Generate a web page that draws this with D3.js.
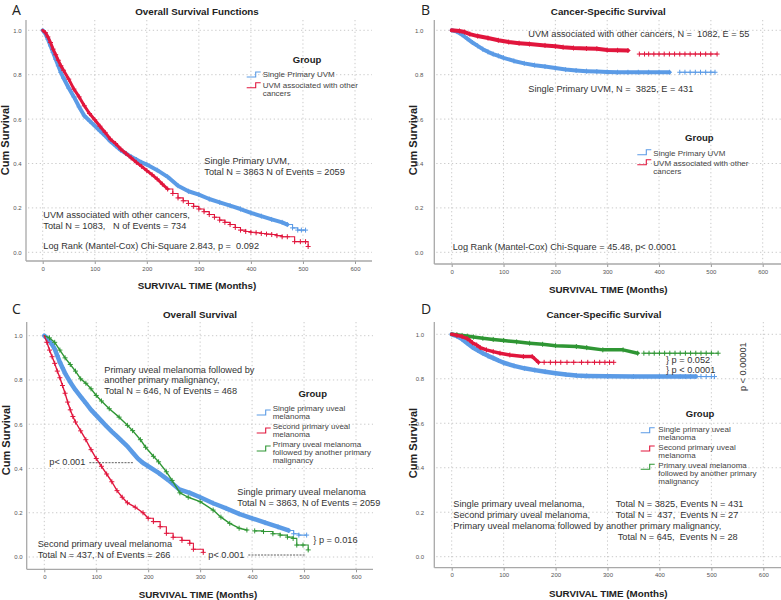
<!DOCTYPE html>
<html><head><meta charset="utf-8">
<script src="https://cdn.jsdelivr.net/npm/d3@7"></script>
<style>body{margin:0;background:#fff;} svg text{font-family:"Liberation Sans",Arial,sans-serif;}</style>
</head><body><svg id="c" width="781" height="600"></svg>
<script>
// ---------- shared ticks ----------
const xTicks = [0,100,200,300,400,500,600];
const yTicks = [0,0.2,0.4,0.6,0.8,1.0];

// ---------- Panel A : Overall survival (two groups) ----------
const aSingle = [[0,1],[5,0.985],[10,0.96],[15,0.93],[20,0.9],[25,0.87],[30,0.84],[35,0.81],[40,0.785],[50,0.74],[60,0.7],[70,0.655],[80,0.615],[90,0.592],[100,0.57],[110,0.547],[120,0.525],[130,0.5],[140,0.48],[150,0.46],[160,0.445],[170,0.43],[180,0.418],[190,0.405],[200,0.395],[220,0.37],[240,0.34],[260,0.3],[280,0.275],[300,0.26],[320,0.24],[340,0.225],[360,0.21],[380,0.195],[400,0.178],[420,0.163],[440,0.148],[460,0.135],[470,0.125],[480,0.11],[490,0.1],[497,0.1],[505,0.1]];
const aOther = [[0,1],[5,0.99],[10,0.97],[15,0.945],[20,0.915],[25,0.89],[30,0.865],[35,0.84],[40,0.82],[50,0.78],[60,0.735],[70,0.7],[80,0.66],[90,0.625],[100,0.597],[110,0.568],[120,0.54],[130,0.51],[140,0.49],[150,0.465],[160,0.445],[170,0.425],[180,0.405],[190,0.387],[200,0.368],[210,0.35],[220,0.33],[230,0.307],[240,0.285],[250,0.265],[260,0.245],[270,0.232],[280,0.22],[290,0.207],[300,0.195],[310,0.183],[320,0.17],[330,0.158],[340,0.145],[350,0.135],[360,0.125],[370,0.112],[380,0.1],[390,0.094],[400,0.09],[410,0.088],[420,0.085],[430,0.082],[440,0.08],[450,0.075],[460,0.07],[470,0.07],[484,0.048],[495,0.048],[505,0.048],[510,0.026]];

// ---------- Panel B : Cancer-specific survival (two groups) ----------
const bSingle = [[0,1],[10,0.994],[20,0.98],[30,0.962],[40,0.945],[50,0.93],[60,0.915],[70,0.903],[80,0.893],[90,0.885],[100,0.876],[120,0.862],[140,0.851],[160,0.843],[180,0.837],[200,0.83],[220,0.823],[240,0.819],[260,0.816],[280,0.814],[300,0.812],[320,0.811],[340,0.811],[360,0.811],[380,0.811],[400,0.811],[420,0.811],[440,0.811],[450,0.811],[460,0.811],[470,0.811],[480,0.811],[490,0.811],[500,0.811],[508,0.811]];
const bOther = [[0,1],[15,0.997],[25,0.992],[35,0.983],[50,0.974],[70,0.965],[90,0.955],[110,0.947],[130,0.942],[150,0.938],[180,0.932],[200,0.928],[215,0.924],[235,0.92],[260,0.918],[280,0.917],[300,0.911],[320,0.91],[340,0.909],[362,0.893],[372,0.893],[380,0.893],[390,0.893],[400,0.893],[410,0.893],[420,0.893],[430,0.893],[440,0.893],[450,0.893],[460,0.893],[470,0.893],[480,0.893],[490,0.893],[500,0.893],[512,0.893]];

// ---------- Panel C : Overall survival (three groups) ----------
const cSingle = [[0,1],[5,0.99],[10,0.975],[15,0.96],[20,0.94],[25,0.91],[30,0.88],[35,0.855],[40,0.83],[50,0.79],[60,0.755],[70,0.725],[80,0.695],[90,0.665],[100,0.64],[110,0.615],[120,0.59],[130,0.567],[140,0.545],[150,0.522],[160,0.5],[170,0.472],[180,0.445],[190,0.425],[200,0.41],[220,0.38],[240,0.345],[260,0.305],[280,0.29],[300,0.27],[325,0.243],[350,0.22],[375,0.195],[400,0.175],[425,0.155],[450,0.136],[470,0.12],[480,0.105],[490,0.099],[505,0.099]];
const cSecond = [[0,1],[5,0.97],[10,0.935],[15,0.905],[20,0.875],[25,0.84],[30,0.81],[35,0.775],[40,0.74],[45,0.7],[50,0.665],[55,0.635],[60,0.61],[70,0.57],[80,0.53],[90,0.485],[100,0.445],[110,0.41],[120,0.375],[130,0.34],[140,0.3],[150,0.27],[160,0.245],[175,0.225],[190,0.2],[200,0.175],[210,0.16],[223,0.137],[235,0.107],[248,0.089],[265,0.075],[280,0.062],[287,0.035],[306,0.021]];
const cFollowed = [[0,1],[10,0.99],[20,0.97],[30,0.935],[40,0.9],[50,0.87],[60,0.84],[70,0.805],[80,0.785],[90,0.76],[100,0.73],[110,0.705],[125,0.67],[144,0.632],[160,0.595],[170,0.571],[185,0.53],[195,0.496],[210,0.455],[220,0.43],[235,0.385],[246,0.346],[261,0.29],[277,0.27],[300,0.25],[325,0.212],[340,0.18],[357,0.152],[375,0.13],[390,0.122],[405,0.118],[422,0.115],[440,0.105],[454,0.099],[468,0.09],[479,0.084],[486,0.054],[498,0.054],[508,0.032]];

// ---------- Panel D : Cancer-specific survival (three groups) ----------
const dSingle = [[0,1],[10,0.992],[20,0.978],[30,0.96],[40,0.942],[50,0.928],[60,0.915],[70,0.903],[80,0.893],[90,0.882],[100,0.872],[120,0.858],[140,0.847],[160,0.839],[180,0.832],[200,0.825],[220,0.819],[240,0.815],[260,0.813],[300,0.811],[350,0.81],[400,0.81],[440,0.81],[450,0.81],[460,0.81],[470,0.81],[480,0.81],[490,0.81],[500,0.81],[506,0.81]];
const dSecond = [[0,1],[10,0.995],[20,0.99],[30,0.98],[35,0.972],[40,0.962],[48,0.952],[55,0.94],[67,0.93],[80,0.922],[93,0.915],[112,0.907],[138,0.9],[155,0.9],[167,0.874],[178,0.874],[190,0.874],[200,0.874],[210,0.874],[222,0.874],[235,0.874],[250,0.874],[262,0.874],[275,0.874],[285,0.874],[295,0.874],[304,0.874],[312,0.874]];
const dFollowed = [[0,1],[10,0.998],[20,0.995],[30,0.992],[42,0.988],[60,0.982],[80,0.977],[100,0.972],[125,0.966],[150,0.96],[175,0.955],[200,0.949],[240,0.945],[260,0.94],[291,0.93],[330,0.93],[358,0.915],[370,0.915],[380,0.915],[390,0.915],[400,0.915],[410,0.915],[420,0.915],[430,0.915],[440,0.915],[450,0.915],[460,0.915],[470,0.915],[480,0.915],[490,0.915],[500,0.915],[513,0.915]];

const BLUE = "#5b9be6", RED = "#e1163d", GREEN = "#2f9634";
const TXT = "#333", LEG = "#444";

const panels = [
  { letter:"A", lx:12, ly:15, title:"Overall Survival Functions", tx:197, ty:15,
    x0:42.7, x600:355, y1:30.3, y0:252.3, axL:26, axB:261, right:372, top:20, ytPad:4.3,
    xtitle:[197,288.7], ytitle:[9,140],
    series:[{d:aSingle,c:BLUE,band:470,bw:4},{d:aOther,c:RED,band:240,bw:3}],
    legend:{gx:307, gy:63, sx:246.7, tx:262.7, dy:0, items:[
      {c:BLUE, lines:["Single Primary UVM"], y:77},
      {c:RED, lines:["UVM associated with other","cancers"], y:87.7}]},
    notes:[["Single Primary UVM,",204.3,164],["Total N = 3863 N of Events = 2059",204.3,174.7],
      ["UVM associated with other cancers,",43.3,218.3],["Total N = 1083,   N of Events = 734",43.3,229.3],
      ["Log Rank (Mantel-Cox) Chi-Square 2.843, p =  0.092",43.3,249.3]],
    dashes:[] },
  { letter:"B", lx:421, ly:15, title:"Cancer-Specific Survival", tx:608.3, ty:15,
    x0:451.7, x600:762.7, y1:30.3, y0:252.3, axL:434.3, axB:264, right:781, top:20, ytPad:11,
    xtitle:[608.3,293.3], ytitle:[417,140],
    series:[{d:bSingle,c:BLUE,band:430,bw:4},{d:bOther,c:RED,band:360,bw:4}],
    legend:{gx:699.3, gy:140.7, sx:637.3, tx:653.3, dy:-1, items:[
      {c:BLUE, lines:["Single Primary UVM"], y:155.7},
      {c:RED, lines:["UVM associated with other","cancers"], y:165.7}]},
    notes:[["UVM associated with other cancers, N =  1082, E = 55",528.3,37.3],
      ["Single Primary UVM, N =  3825, E = 431",528.3,91.7],
      ["Log Rank (Mantel-Cox) Chi-Square = 45.48, p< 0.0001",452.7,250]],
    dashes:[] },
  { letter:"C", lx:12, ly:314, title:"Overall Survival", tx:200, ty:318.3,
    x0:44.3, x600:356, y1:335.7, y0:557, axL:26.7, axB:569.3, right:373, top:322, ytPad:4,
    xtitle:[198,597.7], ytitle:[10,440],
    series:[{d:cSingle,c:BLUE,band:470,bw:4.5},{d:cFollowed,c:GREEN,band:400,bw:1.4},{d:cSecond,c:RED,band:200,bw:1.4}],
    legend:{gx:312.7, gy:396.7, sx:256.7, tx:272.7, dy:4, items:[
      {c:BLUE, lines:["Single primary uveal","melanoma"], y:411},
      {c:RED, lines:["Second primary uveal","melanoma"], y:429},
      {c:GREEN, lines:["Primary uveal melanoma","followed by another primary","malignancy"], y:447}]},
    notes:[["Primary uveal melanoma followed by",104.3,372.7],["another primary malignancy,",104.3,383.3],
      ["Total N = 646, N of Events = 468",104.3,394],
      ["p< 0.001",49.3,465.3],
      ["Single primary uveal melanoma",237.3,495],["Total N = 3863, N of Events = 2059",237.3,505.7],
      ["} p = 0.016",313.3,543.3],
      ["Second primary uveal melanoma",37.7,547.3],["Total N = 437, N of Events = 266",37.7,558.3],
      ["p< 0.001",208.3,557.7]],
    dashes:[[89.3,133.3,462.7],[248.3,306,555]] },
  { letter:"D", lx:421, ly:314, title:"Cancer-Specific Survival", tx:604, ty:318.3,
    x0:451.7, x600:763.3, y1:334.3, y0:556.7, axL:434.3, axB:567.7, right:781, top:322, ytPad:10.3,
    xtitle:[608.3,596.7], ytitle:[417,443],
    series:[{d:dSingle,c:BLUE,band:470,bw:4.5},{d:dFollowed,c:GREEN,band:360,bw:3.5},{d:dSecond,c:RED,band:167,bw:3.5}],
    legend:{gx:700, gy:417.3, sx:640.7, tx:658.3, dy:1, items:[
      {c:BLUE, lines:["Single primary uveal","melanoma"], y:431.7},
      {c:RED, lines:["Second primary uveal","melanoma"], y:450},
      {c:GREEN, lines:["Primary uveal melanoma","followed by another primary","malignancy"], y:468.3}]},
    notes:[["} p = 0.052",666,362.7],["} p < 0.0001",666,373.3],
      ["Single primary uveal melanoma,",453.3,506.7],["Total N = 3825, Events N = 431",615.7,506.7],
      ["Second primary uveal melanoma,",453.3,517.7],["Total N =  437,  Events N = 27",615.7,517.7],
      ["Primary uveal melanoma followed by another primary malignancy,",453.3,529.3],
      ["Total N = 645,  Events N = 28",617.7,540]],
    rot:["p < 0.00001",746,366.7],
    dashes:[] }
];

const svg = d3.select("#c");

panels.forEach(p => {
  const g = svg.append("g");
  const x = d3.scaleLinear().domain([0,600]).range([p.x0,p.x600]);
  const y = d3.scaleLinear().domain([0,1]).range([p.y0,p.y1]);

  // grid
  g.append("g").selectAll("line").data(yTicks).join("line")
    .attr("x1",p.axL+2).attr("x2",p.right).attr("y1",d=>y(d)).attr("y2",d=>y(d))
    .attr("stroke","#c4c4c4").attr("stroke-width",0.9).attr("stroke-dasharray","1.3,2.6");
  g.append("g").selectAll("line").data(xTicks).join("line")
    .attr("x1",d=>x(d)).attr("x2",d=>x(d)).attr("y1",p.top).attr("y2",p.axB)
    .attr("stroke","#c4c4c4").attr("stroke-width",0.9).attr("stroke-dasharray","1.3,2.6");

  // axes
  const xa = g.append("g").attr("transform",`translate(0,${p.axB})`)
    .call(d3.axisBottom(x).tickValues(xTicks).tickSize(3).tickPadding(2.5));
  xa.select(".domain").remove();
  xa.selectAll(".tick line").attr("stroke","#999");
  xa.selectAll("text").attr("font-size",6).attr("fill","#555");
  const ya = g.append("g").attr("transform",`translate(${p.axL},0)`)
    .call(d3.axisLeft(y).tickValues(yTicks).tickFormat(d3.format(".1f")).tickSize(0).tickPadding(p.ytPad));
  ya.select(".domain").remove();
  ya.selectAll("text").attr("font-size",6).attr("fill","#555");
  g.append("line").attr("x1",p.axL).attr("x2",p.right).attr("y1",p.axB).attr("y2",p.axB)
    .attr("stroke","#a8a8a8").attr("stroke-width",1.3);
  g.append("line").attr("x1",p.axL).attr("x2",p.axL).attr("y1",p.top).attr("y2",p.axB)
    .attr("stroke","#a8a8a8").attr("stroke-width",1.3);

  // curves
  const stepLine = d3.line().x(d=>x(d[0])).y(d=>y(d[1])).curve(d3.curveStepAfter);
  const bandLine = d3.line().x(d=>x(d[0])).y(d=>y(d[1])).curve(d3.curveLinear);
  p.series.forEach(s => {
    const tail = s.d.filter(d => d[0] >= s.band);
    const head = s.d.filter(d => d[0] <= s.band);
    g.append("path").attr("d",stepLine(tail)).attr("fill","none").attr("stroke",s.c).attr("stroke-width",1.1);
    if (s.band > 0) {
      g.append("path").attr("d",bandLine(head)).attr("fill","none").attr("stroke",s.c)
        .attr("stroke-width",s.bw).attr("stroke-linejoin","round").attr("stroke-linecap","round");
    }
    g.append("path").attr("fill","none").attr("stroke",s.c).attr("stroke-width",1)
      .attr("d", s.d.slice(1).map(d => {
        const px = x(d[0]), py = y(d[1]);
        return `M${px-2.5},${py}H${px+2.5}M${px},${py-2.5}V${py+2.5}`;
      }).join(""));
  });

  // letter & titles
  g.append("text").attr("x",p.lx).attr("y",p.ly).attr("font-size",14).attr("fill","#222")
    .style("font-family","'Open Sans','DejaVu Sans',sans-serif").text(p.letter);
  g.append("text").attr("x",p.tx).attr("y",p.ty).attr("text-anchor","middle")
    .attr("font-size",9.8).attr("font-weight","bold").attr("fill","#222").text(p.title);
  g.append("text").attr("x",p.xtitle[0]).attr("y",p.xtitle[1]).attr("text-anchor","middle")
    .attr("font-size",9.8).attr("font-weight","bold").attr("fill","#222").text("SURVIVAL TIME (Months)");
  g.append("text").attr("transform",`translate(${p.ytitle[0]},${p.ytitle[1]}) rotate(-90)`)
    .attr("text-anchor","middle").attr("font-size",11).attr("font-weight","bold").attr("fill","#222").text("Cum Survival");

  // legend
  const L = p.legend;
  g.append("text").attr("x",L.gx).attr("y",L.gy).attr("text-anchor","middle")
    .attr("font-size",9.5).attr("font-weight","bold").attr("fill","#222").text("Group");
  L.items.forEach(it => {
    const by = it.y + L.dy;
    g.append("path").attr("fill","none").attr("stroke",it.c).attr("stroke-width",1.1)
      .attr("d",`M${L.sx},${by}H${L.sx+9}V${by-5}H${L.sx+14}`);
    it.lines.forEach((ln,i) => {
      g.append("text").attr("x",L.tx).attr("y",it.y + i*8).attr("font-size",8).attr("fill",LEG).text(ln);
    });
  });

  // notes
  p.notes.forEach(n => {
    g.append("text").attr("x",n[1]).attr("y",n[2]).attr("font-size",9.2).attr("fill",TXT)
      .style("white-space","pre").attr("xml:space","preserve").text(n[0]);
  });
  p.dashes.forEach(dl => {
    g.append("line").attr("x1",dl[0]).attr("x2",dl[1]).attr("y1",dl[2]).attr("y2",dl[2])
      .attr("stroke","#333").attr("stroke-width",0.8).attr("stroke-dasharray","2,1.2");
  });
  if (p.rot) {
    g.append("text").attr("transform",`translate(${p.rot[1]},${p.rot[2]}) rotate(-90)`)
      .attr("text-anchor","middle").attr("font-size",9.2).attr("fill",TXT).text(p.rot[0]);
  }
});
</script></body></html>
